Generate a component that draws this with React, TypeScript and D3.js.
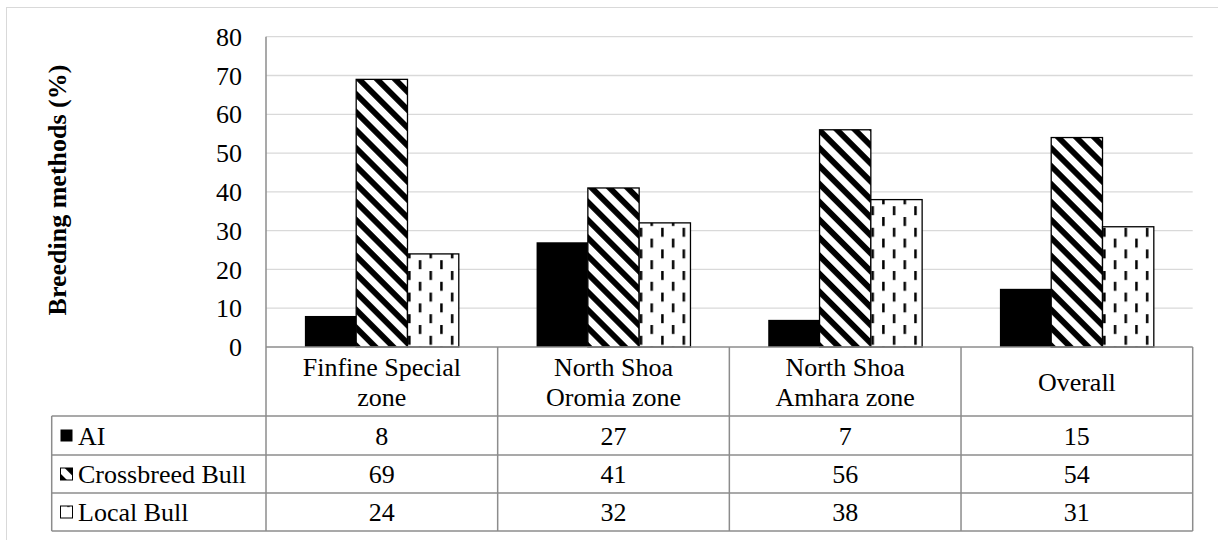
import React from "react";
import * as d3 from "d3";

// Breeding method shares (%) per zone
const categories: string[][] = [
  ["Finfine Special", "zone"],
  ["North Shoa", "Oromia zone"],
  ["North Shoa", "Amhara zone"],
  ["Overall"],
];
const seriesNames = ["AI", "Crossbreed Bull", "Local Bull"];
const aiValues = [8, 27, 7, 15];
const crossbreedValues = [69, 41, 56, 54];
const localValues = [24, 32, 38, 31];
const yTicks = [0, 10, 20, 30, 40, 50, 60, 70, 80];
const yTitle = "Breeding methods (%)";

const W = 1218;
const H = 540;
const FONT = "Liberation Serif";
const FS = 26;
const textStyle: React.CSSProperties = { fontFamily: FONT, fontSize: FS };

export default function App() {
  const plotLeft = 266;
  const plotRight = 1192.7;
  const plotTop = 36.7;
  const plotBottom = 347;
  const tableLeft = 51.7;
  const rowLines = [plotBottom, 416, 455, 493, 531];

  const series = [aiValues, crossbreedValues, localValues];
  const fills = ["#000", "url(#diagStripes)", "url(#vDashes)"];

  const catKeys = categories.map((c) => c.join(" "));
  const x = d3.scaleBand<string>().domain(catKeys).range([plotLeft, plotRight]).padding(0);
  const xInner = d3
    .scaleBand<string>()
    .domain(seriesNames)
    .range([0, x.bandwidth()])
    .paddingInner(0)
    .paddingOuter(0.758);
  const y = d3.scaleLinear().domain([0, 80]).range([plotBottom, plotTop]);

  const gridColor = "#d9d9d9";
  const tableColor = "#8c8c8c";

  return (
    <svg width={W} height={H} style={{ display: "block", position: "absolute", left: 0, top: 0 }}>
      <defs>
        <pattern
          id="diagStripes"
          patternUnits="userSpaceOnUse"
          width={12.7}
          height={12.7}
          patternTransform="rotate(45)"
        >
          <rect x={0} y={0} width={12.7} height={12.7} fill="#fff" />
          <rect x={0} y={0} width={12.7} height={5.8} fill="#000" />
        </pattern>
        <pattern id="vDashes" patternUnits="userSpaceOnUse" width={21.4} height={21.6}>
          <rect x={0} y={0} width={21.4} height={21.6} fill="#fff" />
          <rect x={3} y={1} width={2.5} height={9} fill="#000" />
          <rect x={13.7} y={11.8} width={2.5} height={9} fill="#000" />
        </pattern>
      </defs>

      {/* outer chart frame */}
      <rect x={6.5} y={7.5} width={W} height={H} fill="#fff" stroke={gridColor} strokeWidth={1} />

      {/* gridlines */}
      {yTicks
        .filter((t) => t > 0)
        .map((t) => (
          <line
            key={t}
            x1={plotLeft}
            x2={plotRight}
            y1={y(t)}
            y2={y(t)}
            stroke={gridColor}
            strokeWidth={1.3}
          />
        ))}

      {/* y tick labels */}
      {yTicks.map((t) => (
        <text key={t} x={242} y={y(t)} dy="0.35em" textAnchor="end" style={textStyle} fill="#000">
          {t}
        </text>
      ))}

      {/* y axis title */}
      <text
        transform={`translate(57, 190) rotate(-90)`}
        textAnchor="middle"
        dominantBaseline="central"
        style={{ ...textStyle, fontWeight: "bold" }}
        fill="#000"
      >
        {yTitle}
      </text>

      {/* bars */}
      {catKeys.map((ck, ci) => (
        <g key={ck} transform={`translate(${x(ck)},0)`}>
          {seriesNames.map((s, si) => {
            const v = series[si][ci];
            const bx = xInner(s) as number;
            return (
              <rect
                key={s}
                x={bx}
                y={y(v)}
                width={xInner.bandwidth()}
                height={plotBottom - y(v)}
                fill={fills[si]}
                stroke="#000"
                strokeWidth={si === 0 ? 0 : 1.3}
              />
            );
          })}
        </g>
      ))}

      {/* data table */}
      <g fill="none" stroke={tableColor} strokeWidth={1.5}>
        <line x1={plotLeft} x2={plotLeft} y1={plotTop} y2={rowLines[4]} />
        <line x1={plotLeft} x2={plotRight} y1={rowLines[0]} y2={rowLines[0]} />
        {rowLines.slice(1).map((ry) => (
          <line key={ry} x1={tableLeft} x2={plotRight} y1={ry} y2={ry} />
        ))}
        <line x1={tableLeft} x2={tableLeft} y1={rowLines[1]} y2={rowLines[4]} />
        {catKeys.map((ck) => (
          <line
            key={ck}
            x1={(x(ck) as number) + x.bandwidth()}
            x2={(x(ck) as number) + x.bandwidth()}
            y1={rowLines[0]}
            y2={rowLines[4]}
          />
        ))}
      </g>

      {/* category headers */}
      {categories.map((lines, ci) => {
        const cx = (x(catKeys[ci]) as number) + x.bandwidth() / 2;
        const cy = (rowLines[0] + rowLines[1]) / 2;
        const lh = 30;
        return (
          <text key={ci} textAnchor="middle" style={textStyle} fill="#000">
            {lines.map((ln, li) => (
              <tspan key={li} x={cx} y={cy + (li - (lines.length - 1) / 2) * lh} dy="0.35em">
                {ln}
              </tspan>
            ))}
          </text>
        );
      })}

      {/* series rows: legend key, name and values */}
      {seriesNames.map((s, si) => {
        const top = rowLines[si + 1];
        const bottom = rowLines[si + 2];
        const cy = (top + bottom) / 2;
        const keySize = 12;
        return (
          <g key={s}>
            <rect
              x={60.5}
              y={cy - keySize / 2}
              width={keySize}
              height={keySize}
              fill={fills[si]}
              stroke="#000"
              strokeWidth={si === 0 ? 0 : 1}
            />
            <text x={78} y={cy} dy="0.35em" style={textStyle} fill="#000">
              {s}
            </text>
            {catKeys.map((ck, ci) => (
              <text
                key={ck}
                x={(x(ck) as number) + x.bandwidth() / 2}
                y={cy}
                dy="0.35em"
                textAnchor="middle"
                style={textStyle}
                fill="#000"
              >
                {series[si][ci]}
              </text>
            ))}
          </g>
        );
      })}
    </svg>
  );
}
